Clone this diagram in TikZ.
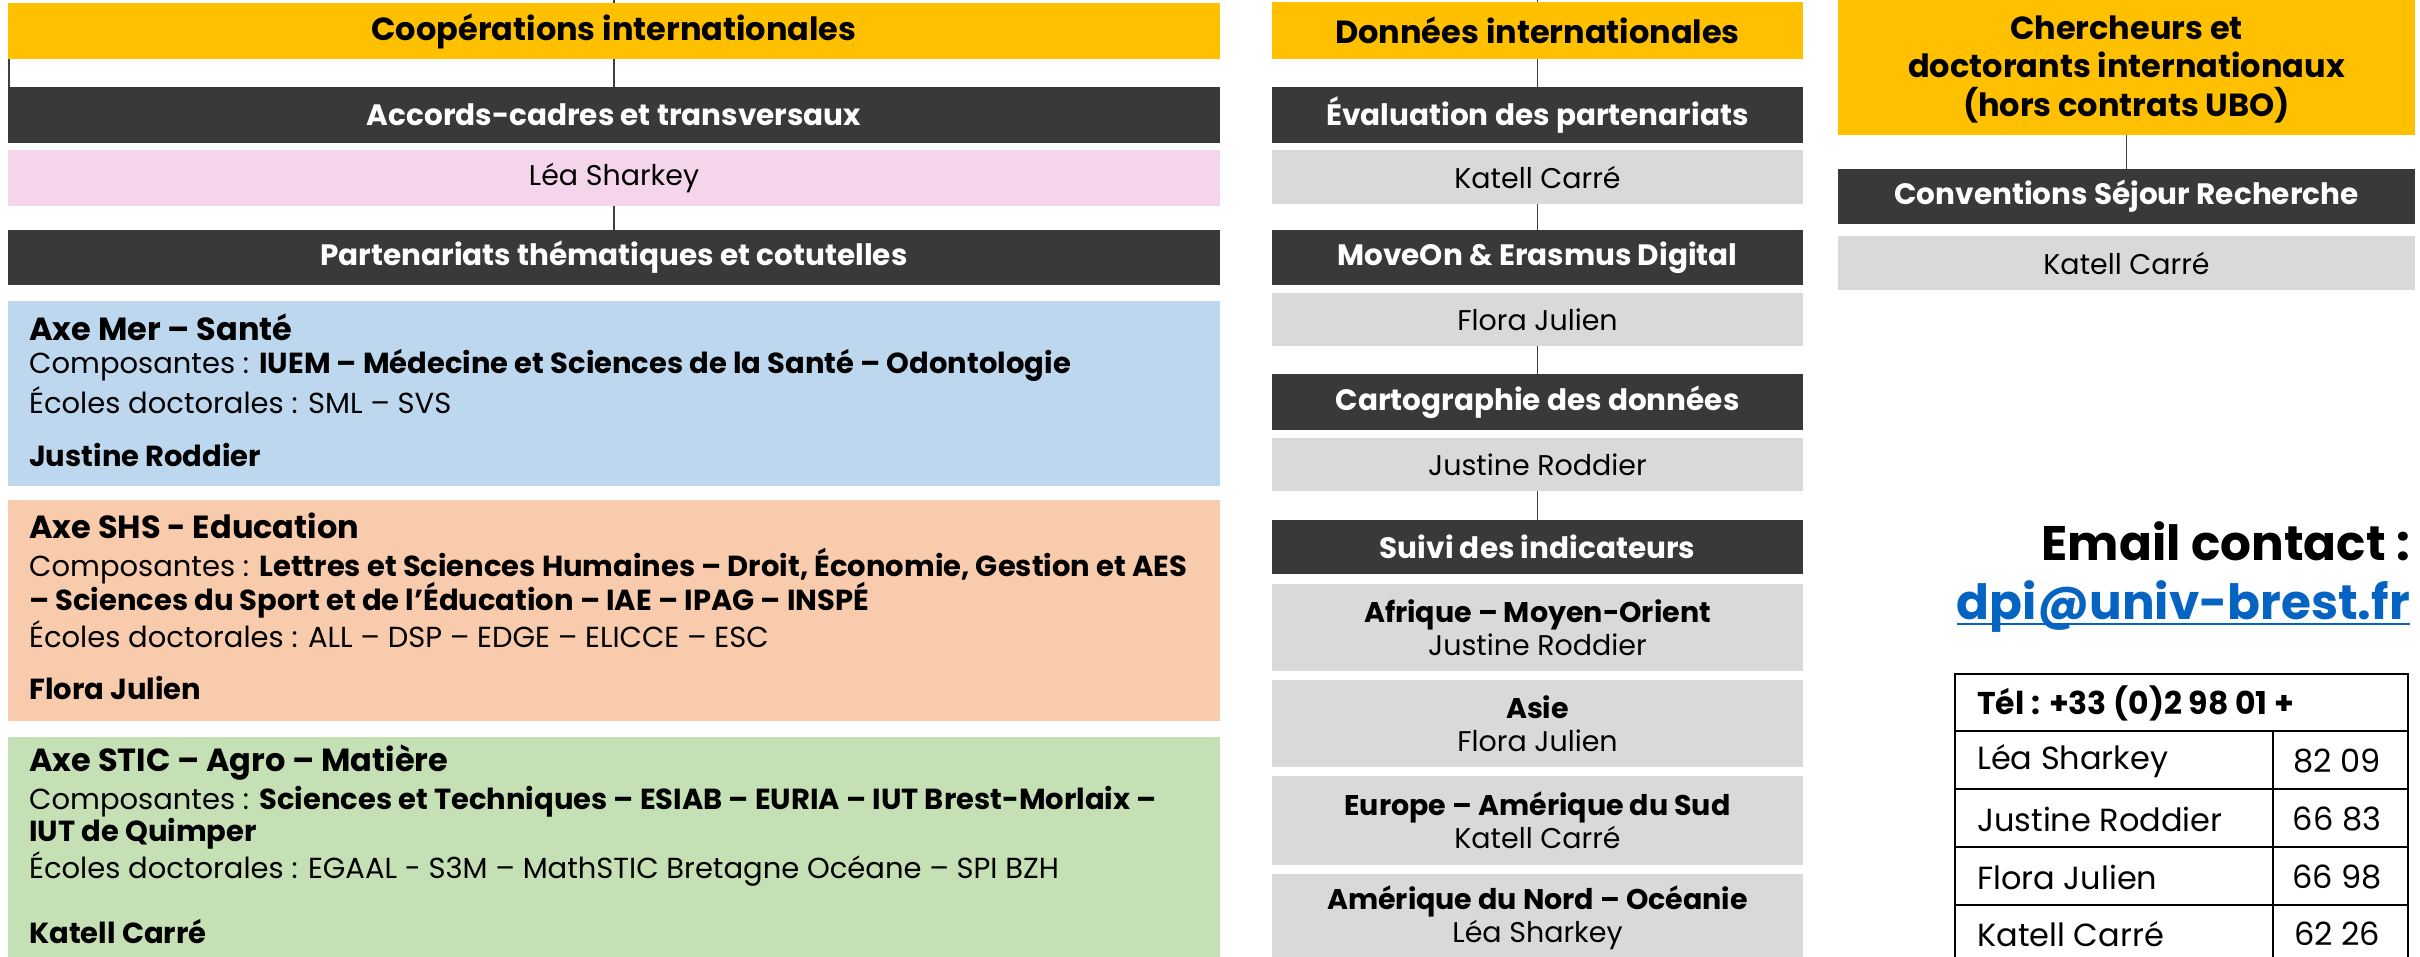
\documentclass[tikz,border=0pt]{standalone}
\usepackage{fontspec}
\setmainfont{Poppins}
\definecolor{cYellow}{HTML}{FFC000}
\definecolor{cDark}{HTML}{3B3838}
\definecolor{cPink}{HTML}{F4D5EC}
\definecolor{cGray}{HTML}{D9D9D9}
\definecolor{cBlue}{HTML}{BDD7EE}
\definecolor{cOrange}{HTML}{F8CBAD}
\definecolor{cGreen}{HTML}{C5E0B4}
\definecolor{cLine}{HTML}{404040}
\definecolor{cLink}{HTML}{0563C1}
\newcommand\yhdrf{\fontsize{32}{38.5}\selectfont\bfseries}
\newcommand\dhdrf{\fontsize{29.5}{36}\selectfont\bfseries}
\newcommand\bodyf{\fontsize{28.5}{33}\selectfont}
\newcommand\lbodyf{\fontsize{29}{33}\selectfont}
\newcommand\axhf{\fontsize{32}{36}\selectfont\bfseries}
\newcommand\axbf{\fontsize{29}{33}\selectfont\bfseries}
\newcommand\tabf{\fontsize{32}{36}\selectfont}
\newcommand\tabhf{\fontsize{31.5}{36}\selectfont\bfseries}
\newcommand\emailf{\fontsize{48.5}{58}\selectfont\bfseries}
\tikzset{
  basebox/.style={inner sep=0pt, outer sep=0pt, draw=none},
  ybox/.style={basebox, fill=cYellow, font=\yhdrf, align=center},
  dbox/.style={basebox, fill=cDark, text=white, font=\dhdrf},
  gbox/.style={basebox, fill=cGray, font=\bodyf, align=center},
  lcol/.style={minimum width=1212},
  mcol/.style={minimum width=531},
  rcol/.style={minimum width=577},
  axt/.style={inner sep=0pt, anchor=west, font=\lbodyf},
  tabt/.style={inner sep=0pt, anchor=west, font=\tabf},
  tabn/.style={inner sep=0pt, font=\tabf},
  conn/.style={draw=cLine, line width=1.5},
  tbl/.style={draw=black, line width=2.5},
}
\begin{document}
\begin{tikzpicture}[x=1pt,y=-1pt]
\useasboundingbox (0,0) rectangle (2420,956);
% ---------------- left column
\coordinate (ltop) at (614,-3);
\node[ybox, lcol, minimum height=56] (lyel) at (614,31) {Coopérations internationales};
\node[dbox, lcol, minimum height=56] (lacc) at (614,115) {Accords-cadres et transversaux};
\node[basebox, lcol, fill=cPink, font=\bodyf, minimum height=56] (lpink) at (614,178) {Léa Sharkey};
\node[dbox, lcol, minimum height=55] (lpart) at (614,257.5) {Partenariats thématiques et cotutelles};
\node[basebox, lcol, fill=cBlue, minimum height=185] (lblue) at (614,393.5) {};
\node[basebox, lcol, fill=cOrange, minimum height=221] (lorange) at (614,610.5) {};
\node[basebox, lcol, fill=cGreen, minimum height=226] (lgreen) at (614,850) {};
\node[axt, font=\axhf] (b1) at (29,327) {Axe Mer – Santé};
\node[axt] (b2) at (29,365) {Composantes : \textbf{IUEM – Médecine et Sciences de la Santé – Odontologie}};
\node[axt] (b3) at (29,400) {Écoles doctorales : SML – SVS};
\node[axt, font=\axbf] (b4) at (29,455) {Justine Roddier};
\node[axt, font=\axhf] (o1) at (29,526) {Axe SHS - Education};
\node[axt] (o2) at (29,566) {Composantes : \textbf{Lettres et Sciences Humaines – Droit, Économie, Gestion et AES}};
\node[axt, font=\axbf] (o3) at (29,600) {– Sciences du Sport et de l’Éducation – IAE – IPAG – INSPÉ};
\node[axt] (o4) at (29,634) {Écoles doctorales : ALL – DSP – EDGE – ELICCE – ESC};
\node[axt, font=\axbf] (o5) at (29,688) {Flora Julien};
\node[axt, font=\axhf] (g1) at (29,763) {Axe STIC – Agro – Matière};
\node[axt] (g2) at (29,802) {Composantes : \textbf{Sciences et Techniques – ESIAB – EURIA – IUT Brest-Morlaix –}};
\node[axt, font=\axbf] (g3) at (29,834) {IUT de Quimper};
\node[axt] (g4) at (29,869) {Écoles doctorales : EGAAL - S3M – MathSTIC Bretagne Océane – SPI BZH};
\node[axt, font=\axbf] (g5) at (29,932) {Katell Carré};
\draw[conn] (ltop) -- (lyel.north);
\draw[conn] (lyel.south) -- (lacc.north);
\draw[conn] ([xshift=1]lyel.south west) -- ([xshift=1]lacc.north west);
\draw[conn] (lpink.south) -- (lpart.north);
% ---------------- middle column
\coordinate (mtop) at (1537.5,-3);
\node[ybox, mcol, minimum height=57] (myel) at (1537.5,30.5) {Données internationales};
\node[dbox, mcol, minimum height=56] (m1) at (1537.5,115) {Évaluation des partenariats};
\node[gbox, mcol, minimum height=54] (m1g) at (1537.5,177) {Katell Carré};
\node[dbox, mcol, minimum height=55] (m2) at (1537.5,257.5) {MoveOn \& Erasmus Digital};
\node[gbox, mcol, minimum height=53] (m2g) at (1537.5,319.5) {Flora Julien};
\node[dbox, mcol, minimum height=56] (m3) at (1537.5,402) {Cartographie des données};
\node[gbox, mcol, minimum height=53] (m3g) at (1537.5,464.5) {Justine Roddier};
\node[dbox, mcol, minimum height=54] (m4) at (1537.5,547) {Suivi des indicateurs};
\node[gbox, mcol, minimum height=87] (r1) at (1537.5,627.5) {\textbf{Afrique – Moyen-Orient}\\Justine Roddier};
\node[gbox, mcol, minimum height=87] (r2) at (1537.5,723.5) {\textbf{Asie}\\Flora Julien};
\node[gbox, mcol, minimum height=89] (r3) at (1537.5,820.5) {\textbf{Europe – Amérique du Sud}\\Katell Carré};
\node[gbox, mcol, minimum height=88] (r4) at (1537.5,918) {\textbf{Amérique du Nord – Océanie}\\Léa Sharkey};
\draw[conn] (mtop) -- (myel.north);
\draw[conn] (myel.south) -- (m1.north);
\draw[conn] (m1g.south) -- (m2.north);
\draw[conn] (m2g.south) -- (m3.north);
\draw[conn] (m3g.south) -- (m4.north);
% ---------------- right column
\node[basebox, fill=cYellow, rcol, minimum height=136] (ryel) at (2126.5,67) {};
\node[inner sep=0pt, font=\yhdrf, align=center] (rytxt) at (2126.5,69.5) {Chercheurs et\\doctorants internationaux\\(hors contrats UBO)};
\node[dbox, rcol, minimum height=55] (rconv) at (2126.5,196.5) {Conventions Séjour Recherche};
\node[gbox, rcol, minimum height=54] (rkat) at (2126.5,263) {Katell Carré};
\draw[conn] (ryel.south) -- (rconv.north);
% ---------------- contact
\node[inner sep=0pt, anchor=base east, font=\emailf] (em) at (2410,560) {Email contact :};
\node[inner sep=0pt, anchor=base east, font=\emailf, text=cLink] (dpi) at (2410,619) {dpi@univ-brest.fr};
\draw[draw=cLink, line width=2.5] ([yshift=-5]dpi.base west) -- ([yshift=-5]dpi.base east);
% ---------------- table
\draw[tbl] (1955,674) rectangle (2408,990);
\foreach \yy in {731,789,847,905} \draw[tbl] (1955,\yy) -- (2408,\yy);
\draw[tbl] (2273,731) -- (2273,990);
\node[tabt, font=\tabhf] (th) at (1977,703) {Tél : +33 (0)2 98 01 +};
\node[tabt] (t1) at (1977,761) {Léa Sharkey};
\node[tabt] (t2) at (1977,819) {Justine Roddier};
\node[tabt] (t3) at (1977,877) {Flora Julien};
\node[tabt] (t4) at (1977,934) {Katell Carré};
\node[tabn] (n1) at (2337,761) {82 09};
\node[tabn] (n2) at (2337,819) {66 83};
\node[tabn] (n3) at (2337,877) {66 98};
\node[tabn] (n4) at (2337,934) {62 26};
\end{tikzpicture}
\end{document}
